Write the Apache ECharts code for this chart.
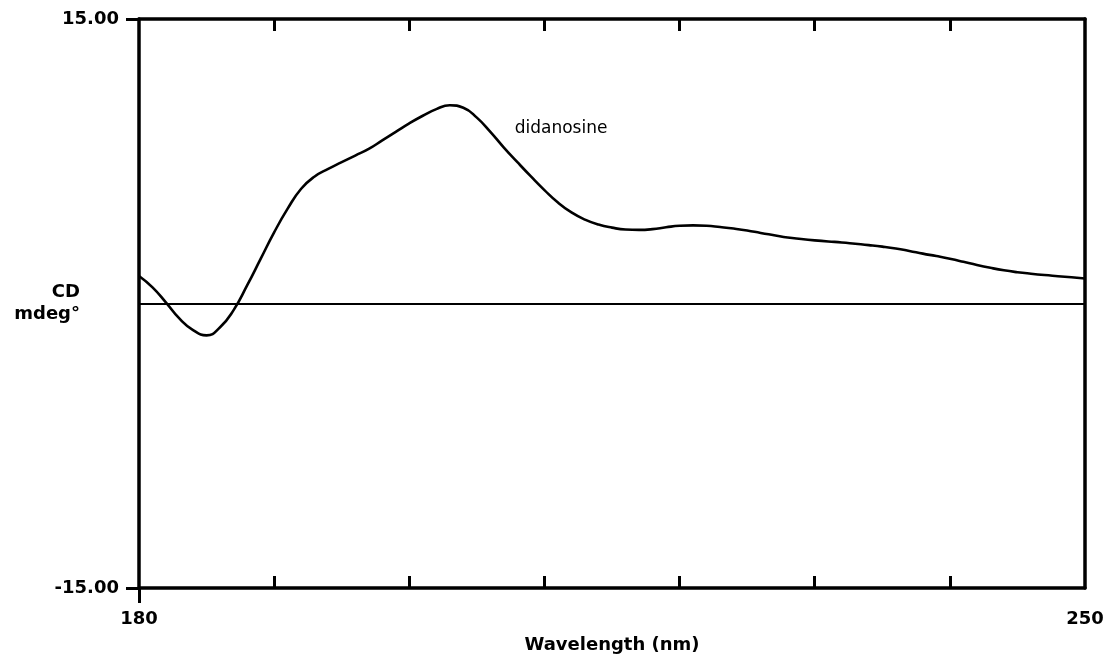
<!DOCTYPE html>
<html>
<head>
<meta charset="utf-8">
<title>CD spectrum – didanosine</title>
<script src="https://cdn.jsdelivr.net/npm/echarts@6/dist/echarts.min.js"></script>
<style>
  html, body { margin: 0; padding: 0; background: #fff; }
  #chart { width: 1112px; height: 658px; }
</style>
</head>
<body>
<div id="chart"></div>
<script>
// Circular dichroism spectrum of didanosine (wavelength in nm, CD in mdeg)
const wavelengths = [
  180, 181, 182, 183, 184, 185, 186, 187, 188, 189,
  190, 191, 192, 193, 194, 195, 196, 197, 198, 199,
  200, 201, 202, 203, 204, 205, 206, 207, 208, 209,
  210, 211, 212, 213, 214, 215, 216, 217, 218, 219,
  220, 221, 222, 223, 224, 225, 226, 227, 228, 229,
  230, 231, 232, 233, 234, 235, 236, 237, 238, 239,
  240, 241, 242, 243, 244, 245, 246, 247, 248, 249, 250
];
const cdValues = [
  1.45, 0.85, 0.05, -0.80, -1.40, -1.68, -1.25, -0.35, 0.95, 2.35,
  3.75, 5.00, 6.05, 6.70, 7.10, 7.45, 7.80, 8.15, 8.60, 9.05,
  9.50, 9.90, 10.25, 10.45, 10.32, 9.80, 9.05, 8.22, 7.45, 6.70,
  5.98, 5.32, 4.80, 4.42, 4.16, 4.00, 3.90, 3.88, 3.92, 4.02,
  4.10, 4.12, 4.10, 4.03, 3.95, 3.85, 3.72, 3.60, 3.48, 3.40,
  3.33, 3.27, 3.22, 3.15, 3.08, 3.00, 2.90, 2.77, 2.63, 2.50,
  2.36, 2.20, 2.03, 1.88, 1.75, 1.65, 1.57, 1.50, 1.44, 1.38, 1.32
];
const seriesName = 'didanosine';

// Axis ranges, tick positions and labelled values
const xRange = [180, 250];
const yRange = [-15, 15];
const xInnerTicks = [190, 200, 210, 220, 230, 240];
const xLabelValues = [180, 250];
const yLabelValues = [-15, 15];
const xAxisTitle = 'Wavelength (nm)';
const yAxisTitle = 'CD\nmdeg°';

const ink = '#000';
const boldFont = { fontFamily: 'DejaVu Sans', fontWeight: 'bold', fontSize: 18, color: ink };
const frame = { show: true, onZero: false, lineStyle: { color: ink, width: 3.5 } };

const chart = echarts.init(document.getElementById('chart'), null, { renderer: 'canvas' });

chart.setOption({
  animation: false,
  backgroundColor: '#fff',
  grid: { left: 139, right: 27, top: 19, bottom: 70, outerBoundsMode: 'none', containLabel: false },
  xAxis: [
    {
      type: 'value', position: 'bottom', min: xRange[0], max: xRange[1],
      axisLine: frame,
      axisTick: { show: true, inside: true, length: 12, customValues: xInnerTicks,
                  lineStyle: { color: ink, width: 3 } },
      splitLine: { show: false },
      axisLabel: { show: true, customValues: xLabelValues, margin: 22, ...boldFont,
                   formatter: v => String(v) },
      name: xAxisTitle, nameLocation: 'middle', nameGap: 48, nameMoveOverlap: false,
      nameTextStyle: { ...boldFont, verticalAlign: 'top' }
    },
    {
      // outward stub below the origin
      type: 'value', position: 'bottom', min: xRange[0], max: xRange[1],
      axisLine: { show: false, onZero: false },
      axisTick: { show: true, inside: false, length: 15, customValues: [xRange[0]],
                  lineStyle: { color: ink, width: 3 } },
      axisLabel: { show: false }, splitLine: { show: false }
    },
    {
      type: 'value', position: 'top', min: xRange[0], max: xRange[1],
      axisLine: frame,
      axisTick: { show: true, inside: true, length: 12, customValues: xInnerTicks,
                  lineStyle: { color: ink, width: 3 } },
      axisLabel: { show: false }, splitLine: { show: false }
    }
  ],
  yAxis: [
    {
      type: 'value', position: 'left', min: yRange[0], max: yRange[1],
      axisLine: frame,
      axisTick: { show: true, inside: false, length: 13, customValues: yLabelValues,
                  lineStyle: { color: ink, width: 3 } },
      splitLine: { show: false },
      axisLabel: { show: true, customValues: yLabelValues, margin: 20, ...boldFont,
                   formatter: v => v.toFixed(2) },
      name: yAxisTitle, nameLocation: 'middle', nameRotate: 0, nameGap: 59,
      nameMoveOverlap: false,
      nameTextStyle: { ...boldFont, align: 'right', verticalAlign: 'middle', lineHeight: 22 }
    },
    {
      type: 'value', position: 'right', min: yRange[0], max: yRange[1],
      axisLine: frame,
      axisTick: { show: false }, axisLabel: { show: false }, splitLine: { show: false }
    }
  ],
  series: [
    {
      name: seriesName,
      type: 'line',
      xAxisIndex: 0, yAxisIndex: 0,
      data: wavelengths.map((w, i) => [w, cdValues[i]]),
      smooth: true,
      symbol: 'none',
      lineStyle: { color: ink, width: 2.6 },
      markLine: {
        silent: true,
        symbol: ['none', 'none'],
        label: { show: false },
        lineStyle: { color: ink, width: 1.8, type: 'solid' },
        data: [{ yAxis: 0 }]
      },
      markPoint: {
        silent: true,
        symbol: 'circle', symbolSize: 0,
        data: [{ coord: [207.8, 9.2], value: seriesName }],
        label: {
          show: true, position: 'right', distance: 0,
          formatter: seriesName,
          fontFamily: 'DejaVu Sans', fontSize: 17, color: ink
        }
      }
    }
  ]
});
</script>
</body>
</html>
